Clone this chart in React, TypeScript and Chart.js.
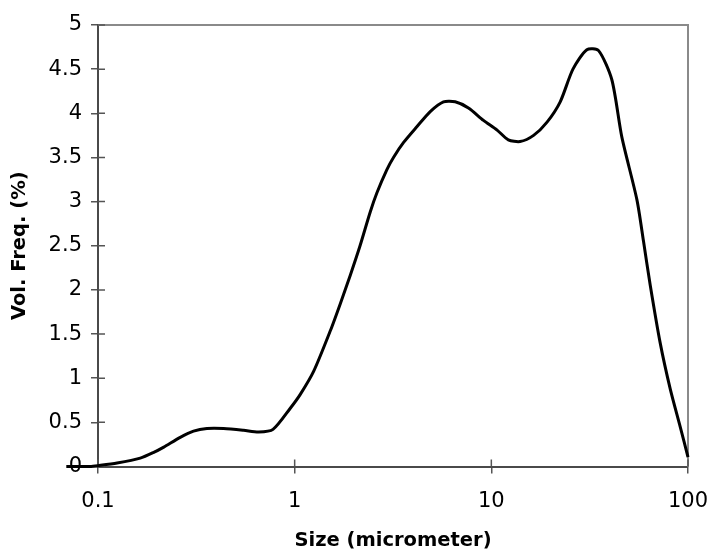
import React, { useEffect, useRef } from "react";
import { Chart, registerables } from "chart.js";

Chart.register(...registerables);

// Particle size (micrometer)
const SIZES = [
  0.069, 0.079, 0.091, 0.1, 0.125, 0.164, 0.192, 0.216, 0.262, 0.306, 0.358, 0.435, 0.55, 0.656, 0.776,
  0.95, 1.07, 1.25, 1.52, 1.71, 1.92, 2.15, 2.42, 2.62, 2.94, 3.18, 3.58, 4.19, 4.89, 5.71, 6.55, 7.65,
  9.12, 10.7, 12.2, 14.0, 16.4, 19.2, 22.4, 26.0, 30.6, 35.1, 41.0, 46.1, 55.0, 59.4, 64.3, 72.2, 81.2,
  91.3, 100,
];
// Volume frequency (%)
const FREQ = [
  0, 0, 0, 0.01, 0.04, 0.095, 0.16, 0.22, 0.33, 0.4, 0.43, 0.43, 0.41, 0.39, 0.42,
  0.66, 0.82, 1.08, 1.54, 1.85, 2.17, 2.5, 2.88, 3.1, 3.36, 3.5, 3.67, 3.85, 4.02, 4.13, 4.13, 4.06,
  3.92, 3.81, 3.7, 3.68, 3.75, 3.9, 4.13, 4.5, 4.72, 4.71, 4.38, 3.73, 3.02, 2.55, 2.05, 1.4, 0.88,
  0.45, 0.105,
];
const X_TICKS = [0.1, 1, 10, 100];
const Y_MIN = 0;
const Y_MAX = 5;
const Y_STEP = 0.5;
const X_TITLE = "Size (micrometer)";
const Y_TITLE = "Vol. Freq. (%)";

const TICK_FONT = { family: "'DejaVu Sans', sans-serif", size: 21 };
const TITLE_FONT = { family: "'DejaVu Sans', sans-serif", size: 19.5, weight: "bold" as const };

const frameAndInnerTicks = {
  id: "frameAndInnerTicks",
  beforeDatasetsDraw(chart: any) {
    const { ctx, chartArea } = chart;
    const { left, right, top, bottom } = chartArea;
    ctx.save();
    ctx.strokeStyle = "#8a8a8a";
    ctx.lineWidth = 2;
    ctx.beginPath();
    ctx.moveTo(left, top);
    ctx.lineTo(right, top);
    ctx.lineTo(right, bottom);
    ctx.stroke();
    // inner halves of the crossing tick marks
    ctx.strokeStyle = "#555";
    ctx.lineWidth = 1.5;
    const xs = chart.scales.x;
    const ys = chart.scales.y;
    ctx.beginPath();
    xs.ticks.forEach((t: any) => {
      const px = xs.getPixelForValue(t.value);
      ctx.moveTo(px, bottom);
      ctx.lineTo(px, bottom - 7);
    });
    ys.ticks.forEach((t: any) => {
      const py = ys.getPixelForValue(t.value);
      ctx.moveTo(left, py);
      ctx.lineTo(left + 7, py);
    });
    ctx.stroke();
    ctx.restore();
  },
};

export default function App() {
  const ref = useRef<HTMLCanvasElement | null>(null);

  useEffect(() => {
    document.body.style.margin = "0";
    const canvas = ref.current;
    if (!canvas) return;
    const data = SIZES.map((s, i) => ({ x: s, y: FREQ[i] }));
    const chart = new Chart(canvas, {
      type: "line",
      data: {
        datasets: [
          {
            data,
            borderColor: "#000",
            borderWidth: 3,
            pointRadius: 0,
            tension: 0.25,
            fill: false,
            clip: false as any,
          },
        ],
      },
      options: {
        responsive: false,
        animation: false,
        layout: { padding: { top: 25, right: 0, left: 0, bottom: 0 } },
        plugins: { legend: { display: false }, tooltip: { enabled: false } },
        scales: {
          x: {
            type: "logarithmic",
            bounds: "data",
            afterDataLimits: (scale: any) => {
              scale.min = X_TICKS[0];
              scale.max = X_TICKS[X_TICKS.length - 1];
            },
            afterBuildTicks: (scale: any) => {
              scale.ticks = X_TICKS.map((v) => ({ value: v }));
            },
            afterFit: (scale: any) => {
              scale.height = 88.5;
              scale.paddingRight = 20;
              scale.paddingLeft = 0;
            },
            ticks: {
              font: TICK_FONT,
              color: "#000",
              padding: 15,
              maxRotation: 0,
              autoSkip: false,
              callback: (v: any) => String(v),
            },
            grid: {
              display: true,
              drawOnChartArea: false,
              drawTicks: true,
              tickLength: 7,
              color: "#555",
              lineWidth: 1.5,
            },
            border: { display: true, color: "#4a4a4a", width: 2 },
            title: {
              display: true,
              text: X_TITLE,
              font: TITLE_FONT,
              color: "#000",
              padding: { top: 0, bottom: 2 },
            },
          },
          y: {
            type: "linear",
            min: Y_MIN,
            max: Y_MAX,
            afterFit: (scale: any) => {
              scale.width = 98;
            },
            ticks: {
              stepSize: Y_STEP,
              font: TICK_FONT,
              color: "#000",
              padding: 9,
              callback: (v: any) => String(v),
            },
            grid: {
              display: true,
              drawOnChartArea: false,
              drawTicks: true,
              tickLength: 7,
              color: "#555",
              lineWidth: 1.5,
            },
            border: { display: true, color: "#4a4a4a", width: 2 },
            title: {
              display: true,
              text: Y_TITLE,
              font: TITLE_FONT,
              color: "#000",
              padding: { top: 8, bottom: 0 },
            },
          },
        },
      },
      plugins: [frameAndInnerTicks],
    });
    return () => chart.destroy();
  }, []);

  return (
    <div style={{ width: 708, height: 555, background: "#fff" }}>
      <canvas ref={ref} width={708} height={555} style={{ display: "block" }} />
    </div>
  );
}
